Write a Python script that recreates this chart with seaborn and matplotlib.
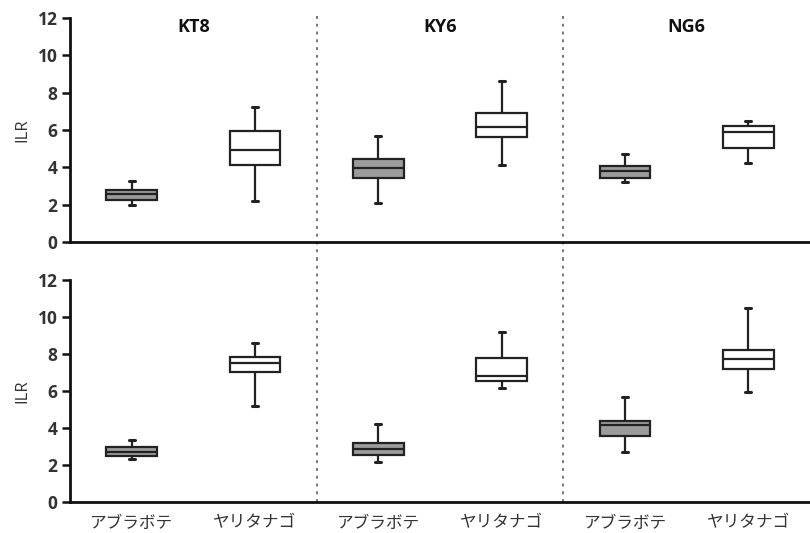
import numpy as np
import pandas as pd
import matplotlib
matplotlib.use("Agg")
import matplotlib.pyplot as plt
import seaborn as sns

sns.set_theme(style="white")
plt.rcParams['font.family'] = ['Open Sans', 'Noto Sans CJK JP', 'DejaVu Sans']

sites = ["KT8", "KY6", "NG6"]
species = ["アブラボテ", "ヤリタナゴ"]

# five-number summaries per panel, order: KT8-A, KT8-Y, KY6-A, KY6-Y, NG6-A, NG6-Y
top_min = [1.97, 2.20, 2.11, 4.13, 3.24, 4.26]
top_q1 = [2.25, 4.11, 3.45, 5.63, 3.45, 5.06]
top_med = [2.55, 4.93, 3.99, 6.17, 3.78, 5.92]
top_q3 = [2.79, 5.95, 4.47, 6.94, 4.08, 6.22]
top_max = [3.27, 7.21, 5.69, 8.64, 4.74, 6.46]

bot_min = [2.35, 5.18, 2.17, 6.17, 2.71, 5.92]
bot_q1 = [2.47, 7.04, 2.53, 6.54, 3.56, 7.17]
bot_med = [2.71, 7.53, 2.89, 6.81, 4.15, 7.71]
bot_q3 = [2.98, 7.82, 3.19, 7.80, 4.37, 8.21]
bot_max = [3.34, 8.58, 4.19, 9.17, 5.65, 10.50]

yticks = [0, 2, 4, 6, 8, 10, 12]


def build(mins, q1s, meds, q3s, maxs):
    rows = []
    i = 0
    for s in sites:
        for sp in species:
            for v in (mins[i], q1s[i], meds[i], q3s[i], maxs[i]):
                rows.append({"group": f"{s}-{sp}", "species": sp, "ILR": v})
            i += 1
    return pd.DataFrame(rows)


order = [f"{s}-{sp}" for s in sites for sp in species]
palette = {"アブラボテ": "#9c9c9c", "ヤリタナゴ": "#ffffff"}

fig = plt.figure(figsize=(8.1, 5.33), dpi=100)
ax_top = fig.add_axes([0.0864, 0.546, 0.9136, 0.42])
ax_bot = fig.add_axes([0.0864, 0.058, 0.9136, 0.417])

for ax, data in ((ax_top, (top_min, top_q1, top_med, top_q3, top_max)),
                 (ax_bot, (bot_min, bot_q1, bot_med, bot_q3, bot_max))):
    df = build(*data)
    sns.boxplot(data=df, x="group", y="ILR", hue="species", order=order,
                palette=palette, dodge=False, whis=(0, 100), width=0.41,
                linewidth=1.6, linecolor="#222222", legend=False, ax=ax,
                showfliers=False)
    # shorten caps
    for ln in ax.lines:
        xd = np.asarray(ln.get_xdata(), dtype=float)
        yd = np.asarray(ln.get_ydata(), dtype=float)
        if len(xd) == 2 and yd[0] == yd[1]:
            span = abs(xd[1] - xd[0])
            if span < 0.35:
                c = xd.mean()
                ln.set_xdata([c - 0.025, c + 0.025])
                ln.set_linewidth(2.2)
    ax.set_xlim(-0.5, 5.5)
    ax.set_ylim(0, 12)
    ax.set_yticks(yticks)
    ax.set_yticklabels([str(t) for t in yticks], fontweight="bold",
                       color="#333333", fontsize=12.5)
    ax.set_ylabel("ILR", fontsize=12, color="#333333", labelpad=5)
    ax.set_xlabel("")
    for side in ("top", "right"):
        ax.spines[side].set_visible(False)
    for side in ("left", "bottom"):
        ax.spines[side].set_linewidth(2.0)
        ax.spines[side].set_color("#111111")
    ax.tick_params(axis="y", direction="out", length=6, width=1.8,
                   color="#111111", left=True, pad=3)
    ax.tick_params(axis="x", length=0, pad=9)

ax_top.set_xticks(range(6))
ax_top.set_xticklabels([])
ax_bot.set_xticks(range(6))
ax_bot.set_xticklabels([sp for s in sites for sp in species],
                       fontsize=12, color="#333333",
                       family=["Noto Sans CJK JP"])

for xv in (1.5, 3.5):
    ax_top.axvline(xv, ymin=-0.08, ymax=1.02, color="#777777", lw=1.4,
                   ls=(0, (1.5, 2.5)), clip_on=False, zorder=0)
    ax_bot.axvline(xv, ymin=0, ymax=1.1, color="#777777", lw=1.4,
                   ls=(0, (1.5, 2.5)), clip_on=False, zorder=0)

for k, s in enumerate(sites):
    ax_top.text(2 * k + 0.5, 11.55, s, ha="center", va="center",
                fontweight="bold", fontsize=13, color="#111111")

fig.savefig("out.png", dpi=100)
